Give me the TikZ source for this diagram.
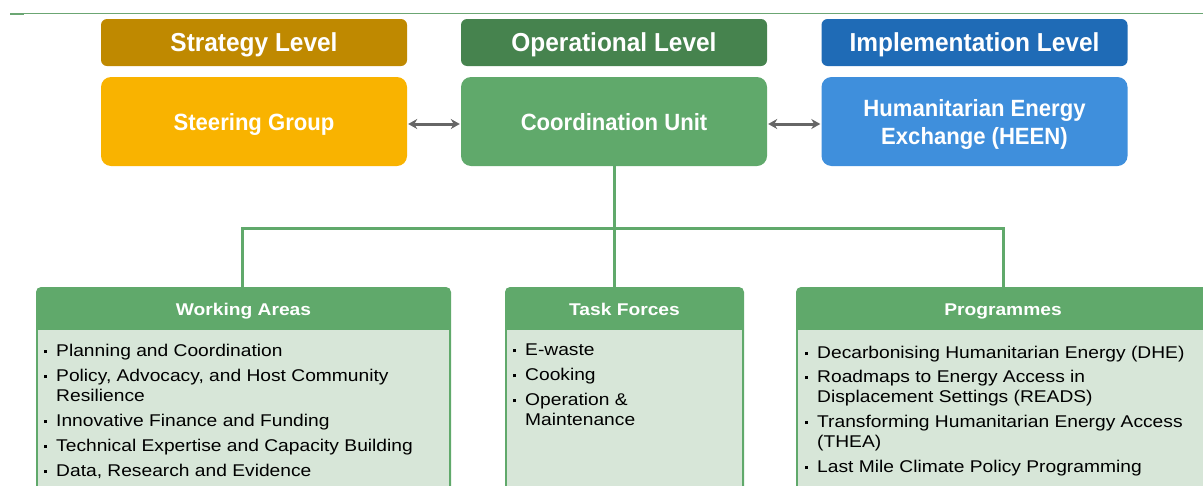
\documentclass[tikz,border=0pt]{standalone}
\usepackage{fontspec}
\setmainfont{Liberation Sans}
\newfontfamily\topfont[FakeStretch=0.94]{Liberation Sans}
\newfontfamily\botfont[FakeStretch=1.13]{Liberation Sans}
\usetikzlibrary{arrows.meta}
\definecolor{stratC}{HTML}{BF8900}
\definecolor{steerC}{HTML}{F9B300}
\definecolor{operC}{HTML}{46834E}
\definecolor{coordC}{HTML}{60A96B}
\definecolor{implC}{HTML}{1F6BB6}
\definecolor{heenC}{HTML}{3F8FDC}
\definecolor{bodyC}{HTML}{D7E6D8}
\definecolor{arrC}{HTML}{666666}
\definecolor{lineC}{HTML}{6BA673}
\newcommand{\bsq}{\makebox[12pt][l]{\rule[3.5pt]{3.2pt}{3.2pt}}}
\newcommand{\cont}{\hspace*{12pt}}
\tikzset{
  lvl/.style={rounded corners=6pt, minimum width=306pt, minimum height=47pt, inner sep=0pt,
    text height=18.6pt, text depth=0pt,
    text=white, font=\topfont\fontsize{26}{28}\selectfont\bfseries},
  unit/.style={rounded corners=10pt, minimum width=306pt, minimum height=89pt, inner sep=0pt,
    text=white, align=center, font=\topfont\fontsize{23.5}{28}\selectfont\bfseries},
  unitlabel/.style={text=white, align=center, inner sep=0pt, font=\topfont\fontsize{23.5}{28}\selectfont\bfseries},
  hdr/.style={minimum height=43pt, inner sep=0pt, text height=12.2pt, text depth=0pt,
    text=white, font=\botfont\fontsize{17}{20}\selectfont\bfseries},
  items/.style={anchor=north west, inner sep=0pt, align=left, text=black,
    font=\botfont\fontsize{17}{20}\selectfont},
  arr/.style={draw=arrC, line width=3pt, {Stealth[length=9pt,width=10pt]}-{Stealth[length=9pt,width=10pt]}},
  conn/.style={draw=coordC, line width=3pt},
}
\begin{document}
\begin{tikzpicture}[x=1pt,y=-1pt]
\useasboundingbox (0,0) rectangle (1203,485);
\clip (0,0) rectangle (1203,485);
% top rule
\draw[lineC, line width=1pt] (10,13) -- (1203,13);
\draw[lineC, line width=2pt] (10,14) -- (24,14);
% level headers
\node[lvl, fill=stratC] (sl) at (254,42.5) {Strategy Level};
\node[lvl, fill=operC] (ol) at (614,42.5) {Operational Level};
\node[lvl, fill=implC] (il) at (974.5,42.5) {Implementation Level};
% units
\node[unit, fill=steerC, text height=17pt, text depth=0pt] (sg) at (254,121.5) {Steering Group};
\node[unit, fill=coordC, text height=17pt, text depth=0pt] (cu) at (614,121.5) {Coordination Unit};
\node[unit, fill=heenC, label={[unitlabel, yshift=-3pt]center:Humanitarian Energy\\Exchange (HEEN)}] (he) at (974.5,121.5) {};
% arrows
\draw[arr, shorten <=1pt, shorten >=1pt] ([yshift=-2.5pt]sg.east) -- ([yshift=-2.5pt]cu.west);
\draw[arr, shorten <=1pt, shorten >=1pt] ([yshift=-2.5pt]cu.east) -- ([yshift=-2.5pt]he.west);
% bottom boxes backgrounds
\fill[coordC, rounded corners=5pt] (36,287) rectangle (451,530);
\fill[bodyC] (38,330) rectangle (449,530);
\fill[coordC, rounded corners=5pt] (505,287) rectangle (744,530);
\fill[bodyC] (507,330) rectangle (742,530);
\fill[coordC, rounded corners=5pt] (796,287) rectangle (1210,530);
\fill[bodyC] (798,330) rectangle (1208,530);
% header nodes
\node[hdr, minimum width=415pt] (wa) at (243.5,309) {Working Areas};
\node[hdr, minimum width=239pt] (tf) at (624.5,309) {Task Forces};
\node[hdr, minimum width=414pt] (pg) at (1003,309) {Programmes};
% connectors
\coordinate (bar) at (614,228);
\draw[conn] (cu.south) -- (bar) -- (bar |- tf.north);
\draw[conn] ([xshift=-1.5pt]wa.north) |- (bar) -| (pg.north);
% items
\node[items] (wai) at (44,344) {\bsq Planning and Coordination\\[5pt]
\bsq Policy, Advocacy, and Host Community\\ \cont Resilience\\[5pt]
\bsq Innovative Finance and Funding\\[5pt]
\bsq Technical Expertise and Capacity Building\\[5pt]
\bsq Data, Research and Evidence};
\node[items] (tfi) at (513,344) {\bsq E-waste\\[5pt]
\bsq Cooking\\[5pt]
\bsq Operation \&\\ \cont Maintenance};
\node[items] (pgi) at (805,346) {\bsq Decarbonising Humanitarian Energy (DHE)\\[4pt]
\bsq Roadmaps to Energy Access in\\ \cont Displacement Settings (READS)\\[5pt]
\bsq Transforming Humanitarian Energy Access\\ \cont (THEA)\\[5pt]
\bsq Last Mile Climate Policy Programming};
\end{tikzpicture}
\end{document}
